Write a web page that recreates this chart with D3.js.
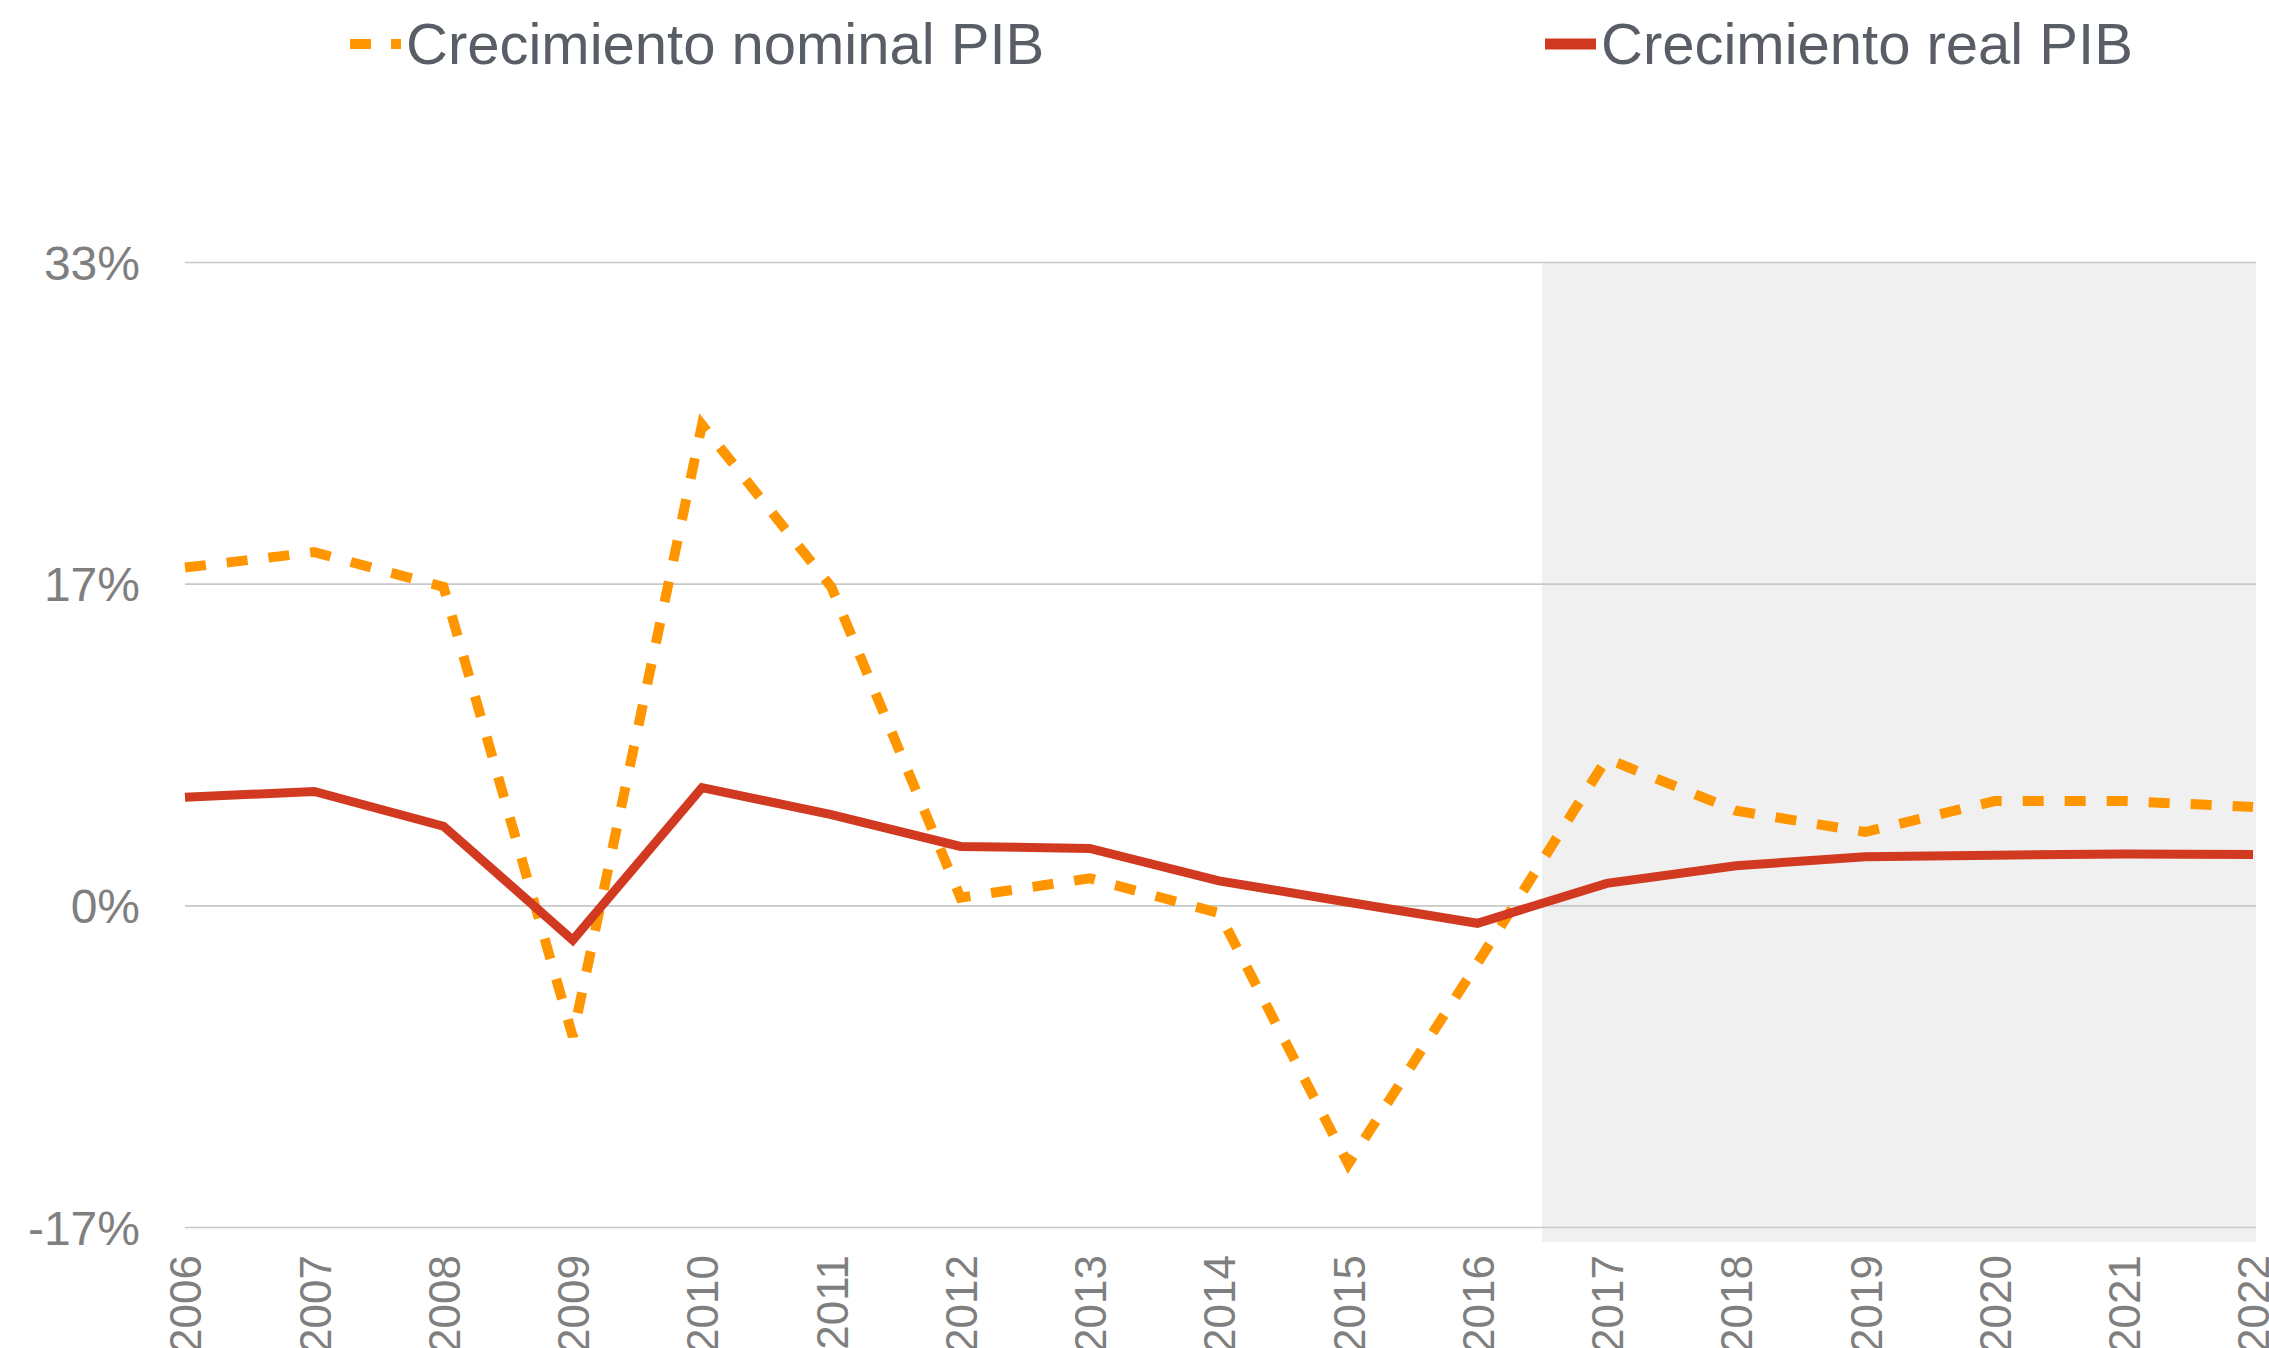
<!DOCTYPE html>
<html lang="es">
<head>
  <meta charset="UTF-8">
  <title>Crecimiento PIB</title>
  <script src="https://d3js.org/d3.v7.min.js"></script>
  <style>
    html, body { margin: 0; padding: 0; background: #fff; }
    body { font-family: 'Liberation Sans', Arial, sans-serif; }
    svg { display: block; }
  </style>
</head>
<body>
  <div id="chart"></div>

  <script>
    // --- datos (porcentajes) ---
    const years = [2006, 2007, 2008, 2009, 2010, 2011, 2012, 2013, 2014, 2015, 2016, 2017, 2018, 2019, 2020, 2021, 2022];
    const nominalGrowth = [17.5, 18.3, 16.5, -6.8, 24.9, 16.5, 0.4, 1.4, -0.4, -13.4, -3.0, 7.6, 4.9, 3.8, 5.4, 5.4, 5.1];
    const realGrowth = [5.6, 5.9, 4.1, -1.8, 6.1, 4.7, 3.05, 2.95, 1.27, 0.16, -0.93, 1.14, 2.05, 2.52, 2.6, 2.66, 2.64];
    const yTicks = [100 / 3, 100 / 6, 0, -100 / 6];
    const yTickLabels = ["33%", "17%", "0%", "-17%"];
    // zona de proyección
    const forecastFrom = 2016.5;
    const forecastTo = 2022;
    const forecastTop = 100 / 3;
    const forecastBottom = -17.45;

    const series = [
      { name: "Crecimiento nominal PIB", values: nominalGrowth, color: "#FF9600", width: 10, dash: "21,21" },
      { name: "Crecimiento real PIB", values: realGrowth, color: "#D13A21", width: 9, dash: null }
    ];

    const W = 2269, H = 1348;
    const margin = { left: 185, right: 2253, top: 262, bottom: 1227 };

    const svg = d3.select("#chart").append("svg")
      .attr("width", W)
      .attr("height", H);

    const x = d3.scaleLinear()
      .domain([years[0], years[years.length - 1]])
      .range([margin.left, margin.right]);

    const y = d3.scaleLinear()
      .domain([-100 / 6, 100 / 3])
      .range([margin.bottom, margin.top]);

    // zona sombreada (proyección)
    svg.append("rect")
      .attr("x", x(forecastFrom))
      .attr("y", y(forecastTop))
      .attr("width", x(forecastTo) + 3 - x(forecastFrom))
      .attr("height", y(forecastBottom) - y(forecastTop))
      .attr("fill", "#F0F0F0");

    // rejilla
    const grid = svg.append("g")
      .attr("transform", `translate(${margin.left},0)`)
      .call(d3.axisLeft(y).tickValues(yTicks).tickSize(-(margin.right - margin.left + 3)).tickFormat(""));
    grid.select(".domain").remove();
    grid.selectAll("line").attr("stroke", "#C8C8C8").attr("stroke-width", 1.6);

    // eje Y
    const yAxis = svg.append("g")
      .attr("transform", `translate(${margin.left},0)`)
      .call(d3.axisLeft(y).tickValues(yTicks).tickSize(0).tickPadding(45)
        .tickFormat((d, i) => yTickLabels[i]));
    yAxis.select(".domain").remove();
    yAxis.selectAll("text")
      .attr("fill", "#7F7F7F")
      .style("font-family", "'Liberation Sans', Arial, sans-serif")
      .style("font-size", "48px")
      .attr("dy", "0.36em");

    // eje X (etiquetas verticales)
    const xAxis = svg.append("g")
      .attr("transform", `translate(0,${margin.bottom})`)
      .call(d3.axisBottom(x).tickValues(years).tickSize(0).tickFormat(d3.format("d")));
    xAxis.select(".domain").remove();
    xAxis.selectAll("text")
      .attr("fill", "#7F7F7F")
      .style("font-family", "'Liberation Sans', Arial, sans-serif")
      .style("font-size", "44px")
      .attr("text-anchor", "end")
      .attr("transform", "translate(0,28) rotate(-90)")
      .attr("x", 0)
      .attr("y", 0)
      .attr("dy", "0.36em");

    // líneas
    const line = d3.line()
      .x((d, i) => x(years[i]))
      .y(d => y(d));

    series.forEach(s => {
      svg.append("path")
        .datum(s.values)
        .attr("fill", "none")
        .attr("stroke", s.color)
        .attr("stroke-width", s.width)
        .attr("stroke-dasharray", s.dash)
        .attr("stroke-linejoin", "miter")
        .attr("d", line);
    });

    // leyenda
    const legendX = [350, 1545];
    const legend = svg.append("g");
    series.forEach((s, i) => {
      const g = legend.append("g").attr("transform", `translate(${legendX[i]},44)`);
      g.append("line")
        .attr("x1", 0).attr("x2", 51)
        .attr("y1", 0).attr("y2", 0)
        .attr("stroke", s.color)
        .attr("stroke-width", s.dash ? 10 : 11)
        .attr("stroke-dasharray", s.dash ? "21,20" : null);
      g.append("text")
        .attr("x", 56)
        .attr("y", 20)
        .attr("fill", "#595E66")
        .style("font-size", "58px")
        .text(s.name);
    });
  </script>
</body>
</html>
